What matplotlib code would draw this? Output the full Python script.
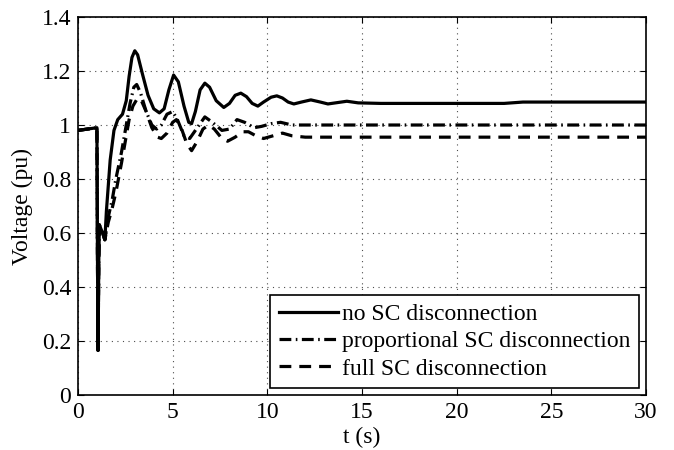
import numpy as np
import matplotlib.pyplot as plt

plt.rcParams['font.family'] = ['Liberation Serif', 'DejaVu Serif']

# no SC disconnection
t_no = [0, 0.5, 1.0, 1.03, 1.06, 1.1, 1.13, 1.3, 1.42, 1.5, 1.7, 1.9, 2.1, 2.35,
        2.55, 2.7, 2.85, 3.0, 3.15, 3.4, 3.7, 4.0, 4.3, 4.55, 4.8, 5.05, 5.3,
        5.6, 5.85, 6.0, 6.2, 6.45, 6.7, 6.95, 7.3, 7.7, 8.0, 8.3, 8.6, 8.9,
        9.2, 9.5, 9.8, 10.2, 10.5, 10.8, 11.1, 11.4, 11.8, 12.3, 12.8, 13.2,
        13.7, 14.2, 14.8, 16.0, 20.0, 22.5, 23.5, 30.0]
v_no = [0.98, 0.985, 0.99, 0.5, 0.165, 0.5, 0.63, 0.60, 0.575, 0.68, 0.87,
        0.98, 1.02, 1.04, 1.09, 1.18, 1.25, 1.275, 1.26, 1.19, 1.11, 1.06,
        1.045, 1.06, 1.13, 1.185, 1.16, 1.07, 1.01, 1.005, 1.05, 1.13, 1.155,
        1.14, 1.09, 1.065, 1.08, 1.11, 1.118, 1.105, 1.08, 1.07, 1.085, 1.103,
        1.108, 1.10, 1.085, 1.078, 1.085, 1.093, 1.085, 1.078, 1.083, 1.088,
        1.082, 1.08, 1.08, 1.08, 1.085, 1.085]

# proportional SC disconnection
t_prop = [0, 0.5, 1.0, 1.03, 1.06, 1.1, 1.13, 1.3, 1.42, 1.6, 1.8, 2.0, 2.3,
          2.55, 2.75, 2.95, 3.1, 3.3, 3.6, 3.9, 4.15, 4.4, 4.7, 5.0, 5.25, 5.6,
          5.9, 6.3, 6.7, 7.1, 7.6, 8.0, 8.4, 8.8, 9.3, 9.7, 10.2, 10.7, 11.3,
          12.0, 20.0, 30.0]
v_prop = [0.98, 0.985, 0.99, 0.5, 0.165, 0.5, 0.63, 0.60, 0.575, 0.66, 0.72,
          0.80, 0.90, 1.0, 1.08, 1.14, 1.15, 1.12, 1.05, 1.0, 0.985, 1.0, 1.04,
          1.05, 1.02, 0.96, 0.95, 0.99, 1.03, 1.01, 0.98, 0.985, 1.02, 1.01,
          0.99, 0.995, 1.005, 1.01, 1.0, 1.0, 1.0, 1.0]

# full SC disconnection
t_full = [0, 0.5, 1.0, 1.03, 1.06, 1.1, 1.13, 1.3, 1.42, 1.6, 1.8, 2.0, 2.3,
          2.5, 2.7, 2.9, 3.15, 3.35, 3.6, 3.9, 4.2, 4.4, 4.7, 5.0, 5.2, 5.45,
          5.75, 6.0, 6.3, 6.6, 6.9, 7.2, 7.6, 7.9, 8.3, 8.7, 9.0, 9.4, 9.8,
          10.3, 10.8, 11.3, 12.0, 20.0, 30.0]
v_full = [0.98, 0.985, 0.99, 0.5, 0.165, 0.5, 0.63, 0.60, 0.575, 0.64, 0.69,
          0.75, 0.86, 0.94, 1.02, 1.07, 1.10, 1.09, 1.05, 0.99, 0.955, 0.95,
          0.97, 1.01, 1.02, 0.99, 0.93, 0.905, 0.94, 0.985, 1.0, 0.985, 0.95,
          0.94, 0.955, 0.975, 0.975, 0.96, 0.95, 0.96, 0.97, 0.96, 0.955,
          0.955, 0.955]

labels = ['no SC disconnection', 'proportional SC disconnection',
          'full SC disconnection']
x_ticks = [0, 5, 10, 15, 20, 25, 30]
y_ticks = [0, 0.2, 0.4, 0.6, 0.8, 1.0, 1.2, 1.4]
y_tick_labels = ['0', '0.2', '0.4', '0.6', '0.8', '1', '1.2', '1.4']

fig = plt.figure(figsize=(6.74, 4.5), dpi=100)
ax = fig.add_axes([0.1157, 0.1222, 0.8428, 0.84])

ax.plot(t_no, v_no, color='black', lw=2.3, ls='-', label=labels[0],
        solid_joinstyle='round')
ax.plot(t_prop, v_prop, color='black', lw=2.3, ls=(0, (3.7, 1.4, 0.5, 1.4)),
        label=labels[1])
ax.plot(t_full, v_full, color='black', lw=2.3, ls=(0, (3.7, 2.5)),
        label=labels[2])

ax.set_xlim(0, 30)
ax.set_ylim(0, 1.4)
ax.set_xticks(x_ticks)
ax.set_yticks(y_ticks)
ax.set_yticklabels(y_tick_labels)
ax.tick_params(direction='in', top=True, right=True, labelsize=17, length=4,
               pad=5)
ax.grid(True, color='0.3', ls=(0, (1, 4)), lw=0.8)
for s in ax.spines.values():
    s.set_linewidth(1.2)

ax.set_xlabel('t (s)', fontsize=17, labelpad=3)
ax.set_ylabel('Voltage (pu)', fontsize=17, labelpad=6)

leg = ax.legend(loc='lower right', fontsize=17, fancybox=False, framealpha=1,
                edgecolor='black', borderpad=0.35, labelspacing=0.25,
                handlelength=2.5, handletextpad=0.2, borderaxespad=0.3)
leg.get_frame().set_linewidth(1.2)

fig.savefig('out.png', dpi=100)
